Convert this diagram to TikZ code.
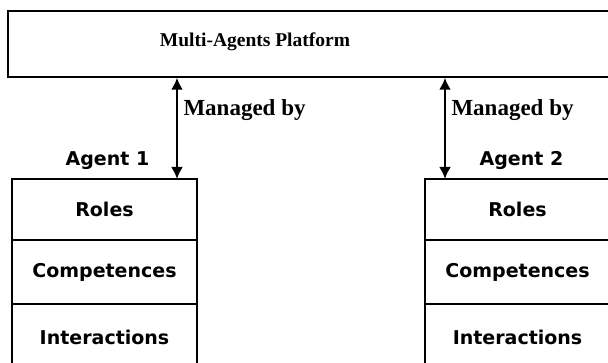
\documentclass[tikz,border=0pt]{standalone}
\usepackage{fontspec}
\setmainfont{Liberation Serif}
\newfontfamily\boxfont{DejaVu Sans}
\usetikzlibrary{arrows.meta,positioning}

\begin{document}
\begin{tikzpicture}[x=1pt,y=1pt,>={Latex[length=12pt,width=12pt]},
  cell/.style={draw,line width=1.4pt,outer sep=0pt,minimum width=185pt,font=\boxfont\bfseries\fontsize{19}{22}\selectfont},
  title/.style={font=\bfseries\fontsize{19.5}{23}\selectfont},
  managed/.style={font=\bfseries\fontsize{23}{27}\selectfont},
  agent/.style={font=\boxfont\bfseries\fontsize{19}{22}\selectfont},
  link/.style={<->,line width=2.4pt}]
  \useasboundingbox (0,0) rectangle (608,363);
  \clip (0,0) rectangle (608,363);
  % platform
  \node[draw,line width=1.4pt,minimum width=612pt,minimum height=66pt] (plat) at (314,319) {};
  \node[title] (platname) at (255,321) {Multi-Agents Platform};
  % agent 1
  \node[cell,minimum height=61pt] (roles1) at (104.5,153.5) {Roles};
  \node[cell,minimum height=64pt] (comp1) [below=0pt of roles1] {Competences};
  \node[cell,minimum height=66pt] (inter1) [below=0pt of comp1] {Interactions};
  \node[agent] (name1) [above=6pt of roles1,xshift=3pt] {Agent 1};
  % agent 2
  \node[cell,minimum height=61pt] (roles2) at (517.5,153.5) {Roles};
  \node[cell,minimum height=64pt] (comp2) [below=0pt of roles2] {Competences};
  \node[cell,minimum height=66pt] (inter2) [below=0pt of comp2] {Interactions};
  \node[agent] (name2) [above=6pt of roles2,xshift=4pt] {Agent 2};
  % links
  \draw[link] ([xshift=-20pt]roles1.north east) -- ([xshift=-20pt]roles1.north east |- plat.south)
    node[managed,pos=0.7,anchor=west,xshift=2pt,yshift=-2pt] (man1) {Managed by};
  \draw[link] ([xshift=20pt]roles2.north west) -- ([xshift=20pt]roles2.north west |- plat.south)
    node[managed,pos=0.7,anchor=west,xshift=2pt,yshift=-2pt] (man2) {Managed by};
\end{tikzpicture}
\end{document}
